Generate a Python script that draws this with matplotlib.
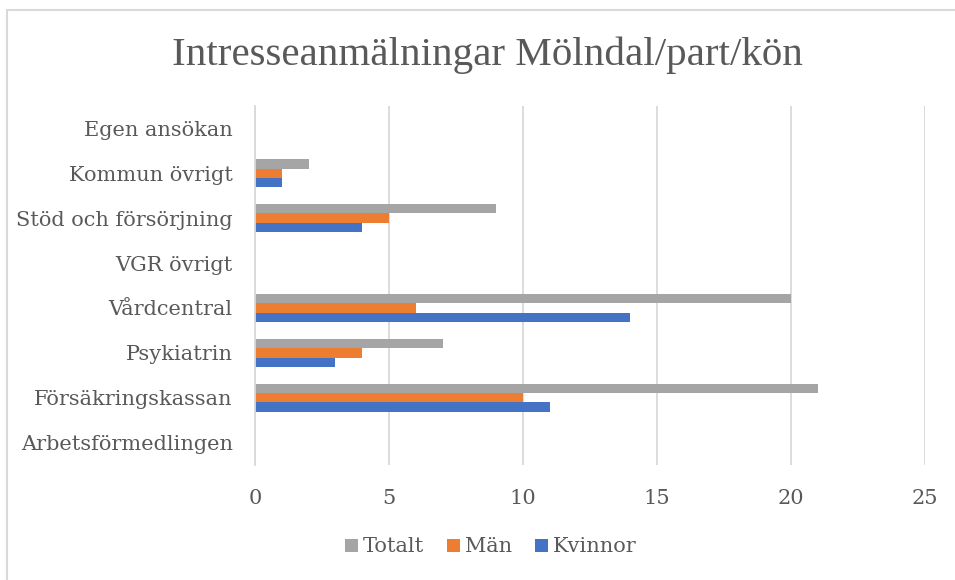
import matplotlib.pyplot as plt
import numpy as np
from matplotlib.patches import Rectangle

# categories listed bottom to top, as Excel draws them
categories = [
    "Arbetsförmedlingen",
    "Försäkringskassan",
    "Psykiatrin",
    "Vårdcentral",
    "VGR övrigt",
    "Stöd och försörjning",
    "Kommun övrigt",
    "Egen ansökan",
]
kvinnor = [0, 11, 3, 14, 0, 4, 1, 0]
man = [0, 10, 4, 6, 0, 5, 1, 0]
totalt = [0, 21, 7, 20, 0, 9, 2, 0]
xticks = [0, 5, 10, 15, 20, 25]

TEXT = "#595959"
GRID = "#D9D9D9"
C_TOT = "#A5A5A5"
C_MAN = "#ED7D31"
C_KVI = "#4472C4"

plt.rcParams["font.family"] = ["DejaVu Serif"]

fig = plt.figure(figsize=(9.55, 5.8), dpi=100)
ax = fig.add_axes([255 / 955, 1 - 465 / 580, 670 / 955, 359 / 580])

y = np.arange(len(categories))
h = 0.21
ax.barh(y - h, kvinnor, height=h, color=C_KVI, label="Kvinnor")
ax.barh(y, man, height=h, color=C_MAN, label="Män")
ax.barh(y + h, totalt, height=h, color=C_TOT, label="Totalt")

ax.set_xlim(0, 25)
ax.set_ylim(-0.5, len(categories) - 0.5)
ax.set_xticks(xticks)
ax.set_yticks(y)
ax.set_yticklabels(categories)
ax.tick_params(axis="y", length=0, pad=16, labelsize=15, labelcolor=TEXT)
ax.tick_params(axis="x", length=0, pad=17, labelsize=15, labelcolor=TEXT)
ax.grid(axis="x", color=GRID, linewidth=1.3)
ax.set_axisbelow(True)
for s in ["top", "right", "bottom"]:
    ax.spines[s].set_visible(False)
ax.spines["left"].set_color(GRID)
ax.spines["left"].set_linewidth(1.3)

fig.text(487 / 955, 1 - 55 / 580, "Intresseanmälningar Mölndal/part/kön",
         ha="center", va="center", fontsize=29.5, color=TEXT,
         family="Liberation Serif")

handles, labels = ax.get_legend_handles_labels()
fig.legend(handles[::-1], labels[::-1], loc="center",
           bbox_to_anchor=(491 / 955, 1 - 547 / 580), ncol=3, frameon=False,
           fontsize=15, labelcolor=TEXT, handlelength=0.6, handleheight=0.6,
           handletextpad=0.25, columnspacing=1.1)

fig.patches.append(Rectangle((7 / 955, -0.1), 1.2, 1 - 10 / 580 + 0.1,
                             transform=fig.transFigure, fill=False,
                             edgecolor=GRID, linewidth=1.5))

fig.savefig("out.png", dpi=100)
